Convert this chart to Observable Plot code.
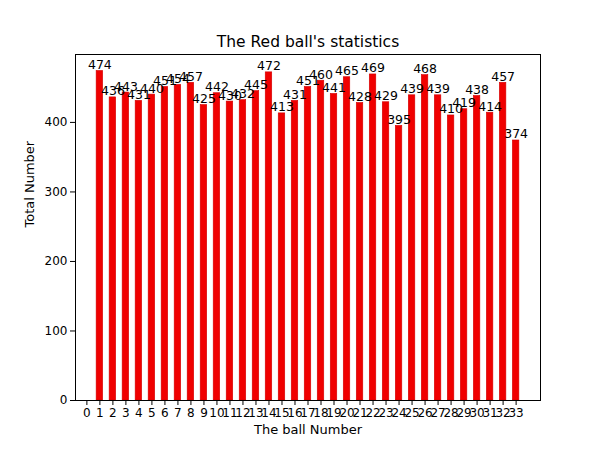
<!DOCTYPE html>
<html>
<head>
<meta charset="utf-8">
<script src="https://cdn.jsdelivr.net/npm/d3@7"></script>
<script src="https://cdn.jsdelivr.net/npm/@observablehq/plot@0.6"></script>
<style>
  html, body { margin: 0; padding: 0; background: #fff; }
  svg { font-family: "DejaVu Sans", sans-serif; }
</style>
</head>
<body>
<div id="chart"></div>
<script>
const balls = d3.range(1, 34);
const counts = [474, 436, 443, 431, 440, 451, 454, 457, 425, 442, 430, 432, 445, 472, 413, 431,
                451, 460, 441, 465, 428, 469, 429, 395, 439, 468, 439, 410, 419, 438, 414, 457, 374];
const xTicks = d3.range(0, 34);
const yTicks = [0, 100, 200, 300, 400];
const title = "The Red ball's statistics";
const xLabel = "The ball Number";
const yLabel = "Total Number";

const data = balls.map((b, i) => ({ball: b, count: counts[i]}));
const halfWidth = 0.25;

const chart = Plot.plot({
  width: 600,
  height: 450,
  marginLeft: 75,
  marginRight: 60,
  marginTop: 54,
  marginBottom: 50,
  style: {fontFamily: "DejaVu Sans, sans-serif", fontSize: "12px", color: "#000", background: "#fff"},
  x: {domain: [-0.875, 34.875], ticks: xTicks, tickFormat: d => String(d), label: null},
  y: {domain: [0, 497.7], ticks: yTicks, label: null},
  marks: [
    Plot.rectY(data, {x1: d => d.ball - halfWidth, x2: d => d.ball + halfWidth, y1: 0, y2: "count", fill: "#f00000", stroke: "#d40000", strokeWidth: 0.6}),
    Plot.text(data, {x: "ball", y: "count", text: d => String(d.count), lineAnchor: "bottom", dy: -2, fontSize: 12.5, fill: "#000"}),
    Plot.axisX({ticks: xTicks, tickSize: 5, tickPadding: 3, fontSize: 12, stroke: "#000", tickFormat: d => String(d), label: null}),
    Plot.axisY({ticks: yTicks, tickSize: 5, tickPadding: 3, fontSize: 12, stroke: "#000", label: null}),
    Plot.text([xLabel], {frameAnchor: "bottom", dy: 33, fontSize: 13, fill: "#000", text: d => d}),
    Plot.text([yLabel], {frameAnchor: "left", dx: -46, rotate: -90, fontSize: 13, fill: "#000", text: d => d}),
    Plot.frame({stroke: "#000", strokeWidth: 1}),
    Plot.text([title], {frameAnchor: "top", dy: -19, fontSize: 15.5, fill: "#000", text: d => d})
  ]
});
document.getElementById("chart").appendChild(chart);
</script>
</body>
</html>
